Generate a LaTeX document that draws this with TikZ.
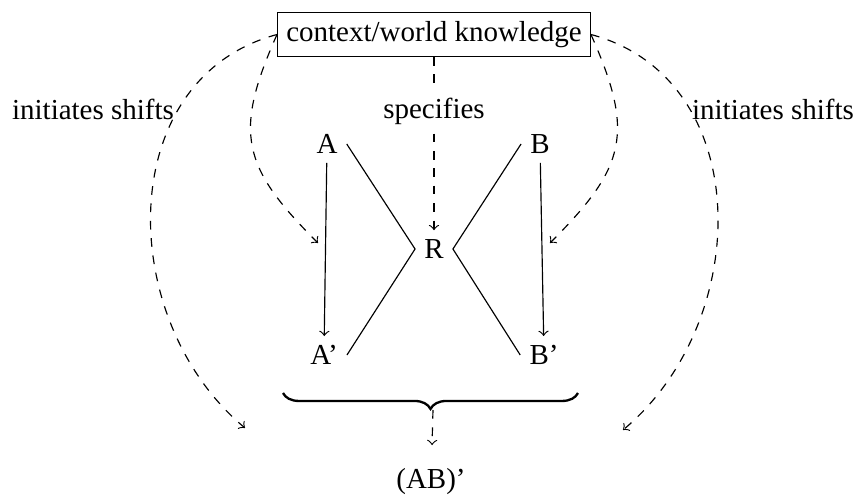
\documentclass[tikz,border=0pt]{standalone}
\usepackage{fontspec}
\setmainfont{Liberation Serif}
\usetikzlibrary{decorations.pathreplacing}
\tikzset{
  lbl/.style={inner sep=3pt},
  kbox/.style={draw,inner sep=3pt},
  dsh/.style={dashed,->},
}
\begin{document}
\begin{tikzpicture}[x=0.345pt,y=0.345pt]
\useasboundingbox (0,0) rectangle (858,495);
\node[kbox] (box) at (434,460.5) {context/world knowledge};
\node[lbl] (spec) at (434,384) {specifies};
\node[lbl] (ll) at (93,385.5) {initiates shifts};
\node[lbl] (rl) at (773,385.5) {initiates shifts};
\node[lbl] (A) at (327,351) {A};
\node[lbl] (A2) at (324,140) {A'};
\node[lbl] (B) at (540,351) {B};
\node[lbl] (B2) at (544,140) {B'};
\node[lbl] (R) at (434,246) {R};
\node[lbl,anchor=base] (AB) at (431,6) {(AB)'};
\coordinate (bl) at (283,102);
\coordinate (br) at (578,102);
\coordinate (bt) at (433,85);
\coordinate (tlo) at (245,67);
\coordinate (tro) at (623,65);
\coordinate (tli) at (318,252);
\coordinate (tri) at (550,252);
% main arrows
\draw[->] (A) -- (A2);
\draw[->] (B) -- (B2);
\draw (A.east) -- (R.west) -- (A2.east);
\draw (B.west) -- (R.east) -- (B2.west);
% specifies
\draw[dashed] (box) -- (spec);
\draw[dsh] (spec) -- (R);
% curved dashed arrows
\draw[dsh] (box.west) to[out=195,in=140,looseness=1.1] (tlo);
\draw[dsh] (box.west) to[out=246,in=135,looseness=1.3] (tli);
\draw[dsh] (box.east) to[out=-15,in=40,looseness=1.1] (tro);
\draw[dsh] (box.east) to[out=-66,in=45,looseness=1.3] (tri);
% brace
\draw[thick,decorate,decoration={brace,mirror,amplitude=5.5pt}] (bl) -- (br);
\draw[dsh,shorten >=5pt] (bt) -- (AB);
\end{tikzpicture}
\end{document}
